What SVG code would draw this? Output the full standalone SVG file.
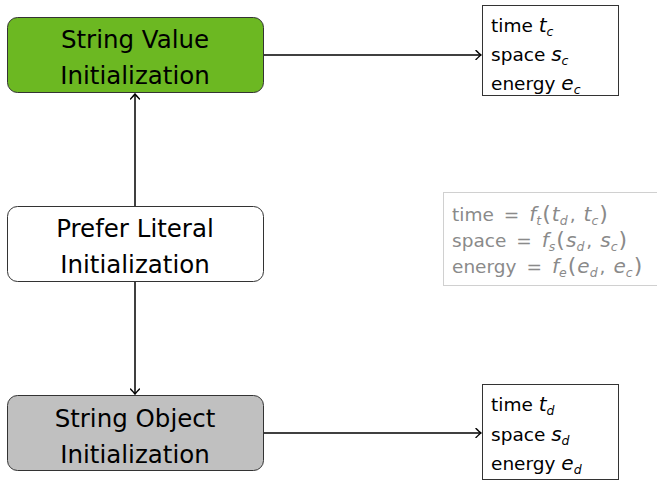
<svg xmlns="http://www.w3.org/2000/svg" width="657" height="482" viewBox="0 0 657 482">
  <style>
    .node { stroke: #333; stroke-width: 1; }
    .label { font-family: "DejaVu Sans", "Liberation Sans", sans-serif; font-size: 24.5px; fill: #000; text-anchor: middle; }
    .info { font-family: "DejaVu Sans", "Liberation Sans", sans-serif; font-size: 18.5px; fill: #000; }
    .infobox { fill: #fff; stroke: #333; stroke-width: 1; }
    .formula { font-family: "DejaVu Sans", "Liberation Sans", sans-serif; font-size: 18.5px; fill: #8a8a8a; }
    .m { font-style: italic; font-size: 20px; }
    .sub { font-style: italic; font-size: 12.5px; }
    .p { font-size: 22px; }
    .edge { stroke: #000; stroke-width: 1.5; fill: none; marker-end: url(#tip); }
  </style>
  <defs>
    <marker id="tip" viewBox="-6 -5 8 10" markerWidth="8" markerHeight="10" refX="0" refY="0" orient="auto" markerUnits="userSpaceOnUse">
      <path d="M -5,-4.5 Q -1.3,-0.9 0,0 Q -1.3,0.9 -5,4.5" fill="none" stroke="#000" stroke-width="1.4" stroke-linecap="round"/>
    </marker>
  </defs>

  <!-- connectors -->
  <g id="connectors">
    <line class="edge" x1="135" y1="206" x2="135" y2="94"/>
    <line class="edge" x1="135" y1="282" x2="135" y2="394"/>
    <line class="edge" x1="263" y1="55" x2="481" y2="55"/>
    <line class="edge" x1="263" y1="433" x2="481" y2="433"/>
  </g>

  <!-- main nodes -->
  <g id="string-value">
    <rect class="node" x="7.5" y="17.5" width="256" height="75" rx="10" fill="#6cb822"/>
    <text class="label" x="135" y="48">String Value</text>
    <text class="label" x="135" y="84">Initialization</text>
  </g>
  <g id="prefer-literal">
    <rect class="node" x="7.5" y="206.5" width="256" height="75" rx="10" fill="#fff"/>
    <text class="label" x="135" y="237">Prefer Literal</text>
    <text class="label" x="135" y="273">Initialization</text>
  </g>
  <g id="string-object">
    <rect class="node" x="7.5" y="395.5" width="256" height="75" rx="10" fill="#c0c0c0"/>
    <text class="label" x="135" y="427">String Object</text>
    <text class="label" x="135" y="463">Initialization</text>
  </g>

  <!-- cost boxes -->
  <g id="cost-value">
    <rect class="infobox" x="482.5" y="5.5" width="136" height="90"/>
    <text class="info" x="491" y="32">time <tspan class="m">t</tspan><tspan class="sub" dy="4">c</tspan></text>
    <text class="info" x="491" y="61">space <tspan class="m">s</tspan><tspan class="sub" dy="4">c</tspan></text>
    <text class="info" x="491" y="90">energy <tspan class="m">e</tspan><tspan class="sub" dy="4">c</tspan></text>
  </g>
  <g id="cost-object">
    <rect class="infobox" x="482.5" y="384.5" width="136" height="95"/>
    <text class="info" x="491" y="411">time <tspan class="m">t</tspan><tspan class="sub" dy="4">d</tspan></text>
    <text class="info" x="491" y="441">space <tspan class="m">s</tspan><tspan class="sub" dy="4">d</tspan></text>
    <text class="info" x="491" y="470">energy <tspan class="m">e</tspan><tspan class="sub" dy="4">d</tspan></text>
  </g>

  <!-- combined cost -->
  <g id="cost-formula">
    <rect x="443.5" y="192.5" width="230" height="93" fill="#fff" stroke="#d0d0d0" stroke-width="1"/>
    <text class="formula" x="452" y="221">time<tspan dx="10">=</tspan><tspan class="m" dx="10">f</tspan><tspan class="sub" dy="4">t</tspan><tspan class="p" dy="-4" dx="1">(</tspan><tspan class="m" dx="1">t</tspan><tspan class="sub" dy="4">d</tspan><tspan dy="-4" dx="2">,</tspan><tspan class="m" dx="8">t</tspan><tspan class="sub" dy="4">c</tspan><tspan class="p" dy="-4" dx="1">)</tspan></text>
    <text class="formula" x="452" y="247">space<tspan dx="10">=</tspan><tspan class="m" dx="10">f</tspan><tspan class="sub" dy="4">s</tspan><tspan class="p" dy="-4" dx="1">(</tspan><tspan class="m" dx="1">s</tspan><tspan class="sub" dy="4">d</tspan><tspan dy="-4" dx="2">,</tspan><tspan class="m" dx="8">s</tspan><tspan class="sub" dy="4">c</tspan><tspan class="p" dy="-4" dx="1">)</tspan></text>
    <text class="formula" x="452" y="273">energy<tspan dx="10">=</tspan><tspan class="m" dx="10">f</tspan><tspan class="sub" dy="4">e</tspan><tspan class="p" dy="-4" dx="1">(</tspan><tspan class="m" dx="1">e</tspan><tspan class="sub" dy="4">d</tspan><tspan dy="-4" dx="2">,</tspan><tspan class="m" dx="8">e</tspan><tspan class="sub" dy="4">c</tspan><tspan class="p" dy="-4" dx="1">)</tspan></text>
  </g>
</svg>
